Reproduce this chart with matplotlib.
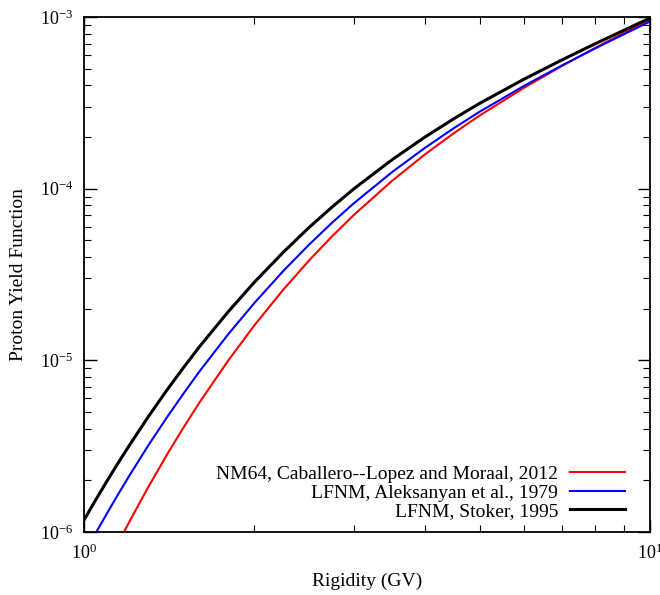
import matplotlib
matplotlib.use("Agg")
import matplotlib.pyplot as plt
from matplotlib.ticker import NullFormatter
import numpy as np

rigidity = [1.0, 1.05, 1.1, 1.15, 1.2, 1.3, 1.4, 1.5, 1.6, 1.8, 2.0, 2.25, 2.5, 2.75,
            3.0, 3.5, 4.0, 4.5, 5.0, 6.0, 7.0, 8.0, 9.0, 10.0]
log_stoker = [-5.930, -5.810, -5.699, -5.596, -5.500, -5.327, -5.175, -5.041, -4.920, -4.715,
              -4.545, -4.370, -4.225, -4.104, -4.000, -3.832, -3.700, -3.593, -3.503, -3.361,
              -3.249, -3.156, -3.077, -3.006]
log_aleksanyan = [-6.130, -6.004, -5.887, -5.778, -5.677, -5.494, -5.334, -5.192, -5.064, -4.846,
                  -4.666, -4.479, -4.325, -4.195, -4.084, -3.904, -3.763, -3.648, -3.552, -3.400,
                  -3.281, -3.183, -3.100, -3.026]
log_caballero = [-6.472, -6.325, -6.189, -6.063, -5.946, -5.736, -5.552, -5.390, -5.245, -4.999,
                 -4.796, -4.588, -4.417, -4.274, -4.152, -3.955, -3.801, -3.677, -3.574, -3.411,
                 -3.284, -3.180, -3.092, -3.014]

labels = ["NM64, Caballero--Lopez and Moraal, 2012",
          "LFNM, Aleksanyan et al., 1979",
          "LFNM, Stoker, 1995"]

plt.rcParams['font.family'] = ['Liberation Serif', 'DejaVu Serif']
plt.rcParams['mathtext.fontset'] = 'stix'

fig = plt.figure(figsize=(6.6, 5.95), dpi=100)
ax = fig.add_axes([84/660, 1-532/595, (650-84)/660, (532-17)/595])

R = np.array(rigidity)
ax.plot(R, 10**np.array(log_caballero), color='#ff0000', lw=1.5, label=labels[0])
ax.plot(R, 10**np.array(log_aleksanyan), color='#0000ff', lw=1.5, label=labels[1])
ax.plot(R, 10**np.array(log_stoker), color='black', lw=2.2, label=labels[2])

ax.set_xscale('log')
ax.set_yscale('log')
ax.set_xlim(1, 10)
ax.set_ylim(1e-6, 1e-3)
ax.xaxis.set_minor_formatter(NullFormatter())
ax.yaxis.set_minor_formatter(NullFormatter())

ax.tick_params(which='both', direction='in', top=True, right=True, labelsize=13)
ax.tick_params(which='major', length=9, width=1.0, pad=8)
ax.tick_params(which='minor', length=5, width=0.8)
for s in ax.spines.values():
    s.set_linewidth(1.3)

ax.set_xlabel('Rigidity (GV)', fontsize=14, labelpad=7)
ax.set_ylabel('Proton Yield Function', fontsize=14, labelpad=9)

ax.legend(loc='lower right', frameon=False, markerfirst=False, fontsize=14,
          handlelength=2.85, labelspacing=0.05, handletextpad=0.6,
          borderaxespad=0.0, bbox_to_anchor=(0.970, 0.008))

fig.savefig('out.png', dpi=100)
